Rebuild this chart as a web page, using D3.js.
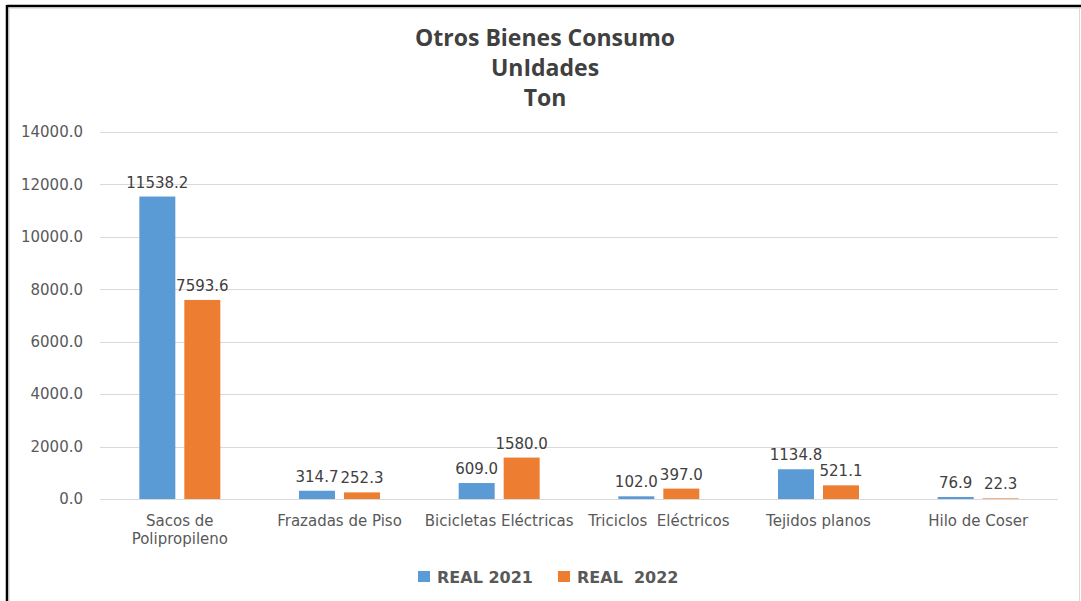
<!DOCTYPE html>
<html>
<head>
<meta charset="utf-8">
<script src="https://cdn.jsdelivr.net/npm/d3@7"></script>
<style>
  body { margin: 0; background: #fff; }
  svg { display: block; font-family: "Open Sans", "DejaVu Sans", sans-serif; }
</style>
</head>
<body>
<svg class="chart-svg"></svg>
<script>
var categories = ['Sacos de|Polipropileno', 'Frazadas de Piso', 'Bicicletas Eléctricas', 'Triciclos  Eléctricos', 'Tejidos planos', 'Hilo de Coser'];
var real2021 = [11538.2, 314.7, 609.0, 102.0, 1134.8, 76.9];
var real2022 = [7593.6, 252.3, 1580.0, 397.0, 521.1, 22.3];
var seriesNames = ['REAL 2021', 'REAL  2022'];
var seriesColors = ['#5B9BD5', '#ED7D31'];
var yTicks = [0, 2000, 4000, 6000, 8000, 10000, 12000, 14000];
var titleLines = ['Otros Bienes Consumo', 'UnIdades', 'Ton'];

var W = 1081, H = 601;
var margin = { top: 132, bottom: 102, right: 23, left: 100 };
var w = W - margin.left - margin.right;
var h = H - margin.top - margin.bottom;

var svg = d3.select('.chart-svg').attr('width', W).attr('height', H);

// frame
svg.append('line').attr('x1', 7).attr('x2', W).attr('y1', 6).attr('y2', 6)
  .style('stroke', '#000').style('stroke-width', 2.5);
svg.append('line').attr('x1', 7).attr('x2', 7).attr('y1', 5).attr('y2', H)
  .style('stroke', '#000').style('stroke-width', 2.5);
svg.append('line').attr('x1', 10).attr('x2', W).attr('y1', 8.5).attr('y2', 8.5)
  .style('stroke', '#e4e4e4').style('stroke-width', 1);
svg.append('line').attr('x1', 9.5).attr('x2', 9.5).attr('y1', 8).attr('y2', H)
  .style('stroke', '#e4e4e4').style('stroke-width', 1);
svg.append('line').attr('x1', 1079.5).attr('x2', 1079.5).attr('y1', 8).attr('y2', H)
  .style('stroke', '#d9d9d9').style('stroke-width', 1);

var g = svg.append('g').attr('transform', `translate(${margin.left}, ${margin.top})`);

var x_scale = d3.scaleBand().domain(categories).range([0, w]);
var y_scale = d3.scaleLinear().domain([0, 14000]).range([h, 0]);

var barW = 36, gap = 9;

// gridlines
g.selectAll('.grid').data(yTicks).join('line').attr('class', 'grid')
  .attr('x1', 0).attr('x2', w)
  .attr('y1', d => Math.round(y_scale(d)) + 0.5).attr('y2', d => Math.round(y_scale(d)) + 0.5)
  .style('stroke', '#d9d9d9').style('stroke-width', 1);

// y axis labels
var yAxis = d3.axisLeft(y_scale).tickValues(yTicks).tickFormat(d3.format('.1f')).tickSize(0).tickPadding(17);
g.append('g').call(yAxis).call(a => a.select('.domain').remove())
  .selectAll('text').style('font-size', '15px').style('fill', '#595959')
  .style('font-family', '"DejaVu Sans", sans-serif');

var rows = categories.map((c, i) => ({ cat: c, vals: [real2021[i], real2022[i]] }));

var grp = g.selectAll('.grp').data(rows).join('g').attr('class', 'grp')
  .attr('transform', d => `translate(${x_scale(d.cat) + x_scale.bandwidth() / 2}, 0)`);

grp.selectAll('rect').data(d => d.vals).join('rect')
  .attr('x', (d, i) => i === 0 ? -barW - gap / 2 : gap / 2)
  .attr('width', barW)
  .attr('y', d => y_scale(d))
  .attr('height', d => h - y_scale(d))
  .style('fill', (d, i) => seriesColors[i]);

grp.selectAll('.val').data(d => d.vals).join('text').attr('class', 'val')
  .attr('x', (d, i) => (i === 0 ? -barW - gap / 2 : gap / 2) + barW / 2)
  .attr('y', d => y_scale(d) - 9)
  .style('text-anchor', 'middle')
  .style('font-size', '15px').style('fill', '#404040')
  .style('font-family', '"DejaVu Sans", sans-serif')
  .text(d => d3.format('.1f')(d));

// category labels
grp.append('text')
  .attr('y', h + 27)
  .style('text-anchor', 'middle')
  .style('font-size', '15px').style('fill', '#595959')
  .style('font-family', '"DejaVu Sans", sans-serif')
  .selectAll('tspan').data(d => d.cat.split('|')).join('tspan')
  .attr('x', 0).attr('dy', (d, i) => i === 0 ? 0 : 18)
  .style('white-space', 'pre')
  .text(d => d);

// title
svg.selectAll('.title').data(titleLines).join('text').attr('class', 'title')
  .attr('x', 545).attr('y', (d, i) => 46 + i * 30)
  .style('text-anchor', 'middle')
  .style('font-size', '23px').style('font-weight', 'bold').style('fill', '#404040')
  .text(d => d);

// legend
var legX = [418, 558];
var leg = svg.selectAll('.leg').data(seriesNames).join('g').attr('class', 'leg')
  .attr('transform', (d, i) => `translate(${legX[i]}, 571)`);
leg.append('rect').attr('width', 12).attr('height', 11).style('fill', (d, i) => seriesColors[i]);
leg.append('text').attr('x', 19).attr('y', 11.5)
  .style('font-size', '16px').style('font-weight', 'bold').style('fill', '#595959')
  .style('font-family', '"DejaVu Sans", sans-serif')
  .style('white-space', 'pre')
  .text(d => d);
</script>
</body>
</html>
